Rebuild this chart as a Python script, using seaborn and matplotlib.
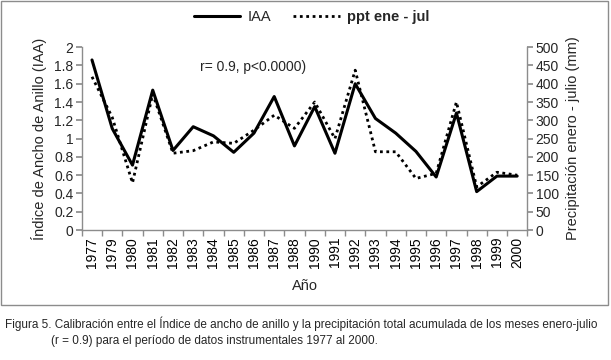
import matplotlib
matplotlib.use("Agg")
import matplotlib.pyplot as plt
import pandas as pd
import seaborn as sns
from matplotlib.lines import Line2D
from matplotlib.patches import Rectangle
from matplotlib.ticker import FixedLocator

YEARS = ["1977", "1979", "1980", "1981", "1982", "1983", "1984", "1985", "1986", "1987", "1988",
         "1990", "1991", "1992", "1993", "1994", "1995", "1996", "1997", "1998", "1999", "2000"]
IAA = [1.86, 1.11, 0.71, 1.53, 0.87, 1.13, 1.03, 0.85, 1.06, 1.46, 0.92,
       1.35, 0.84, 1.60, 1.22, 1.06, 0.86, 0.58, 1.28, 0.42, 0.59, 0.59]
PPT = [419, 308, 129, 372, 210, 217, 241, 237, 273, 314, 278,
       350, 250, 437, 214, 214, 141, 155, 350, 118, 158, 150]

GRAY = "#8c8c8c"

sns.set_theme(style="white")
plt.rcParams["font.family"] = ["Liberation Sans", "DejaVu Sans"]

df = pd.DataFrame({"year": YEARS, "iaa": IAA, "ppt": PPT})

fig = plt.figure(figsize=(6.11, 3.6), dpi=100)
ax = fig.add_axes([0.134, 0.361, 0.729, 0.508])

sns.lineplot(data=df, x="year", y="iaa", ax=ax, color="black", linewidth=2.2, sort=False)
ax2 = ax.twinx()
sns.lineplot(data=df, x="year", y="ppt", ax=ax2, color="black", linewidth=2.0,
             linestyle=(0, (1, 1.3)), sort=False)

n = len(YEARS)
ax.set_xlim(-0.5, n - 0.5)
ax.set_ylim(0, 2)
ax.set_yticks([i * 0.2 for i in range(11)])
ax.set_yticklabels(["0", "0.2", "0.4", "0.6", "0.8", "1", "1.2", "1.4", "1.6", "1.8", "2"])
ax2.set_ylim(0, 500)
ax2.set_yticks(range(0, 501, 50))

ax.set_xticks(range(n))
ax.set_xticklabels(YEARS, rotation=90)
ax.xaxis.set_minor_locator(FixedLocator([i - 0.5 for i in range(n + 1)]))

for a in (ax, ax2):
    for s in a.spines.values():
        s.set_visible(False)
ax.spines["left"].set_visible(True)
ax.spines["bottom"].set_visible(True)
ax2.spines["right"].set_visible(True)
for s in (ax.spines["left"], ax.spines["bottom"], ax2.spines["right"]):
    s.set_color(GRAY)
    s.set_linewidth(1.0)

ax.tick_params(axis="x", which="major", length=0, labelsize=10, pad=5, colors="black")
ax.tick_params(axis="x", which="minor", length=4, color=GRAY, direction="out", bottom=True)
ax.tick_params(axis="y", length=4, color=GRAY, direction="out", left=True, labelsize=10, pad=2)
ax2.tick_params(axis="y", length=4, color=GRAY, direction="out", right=True, labelsize=10, pad=2)

ax.set_xlabel("Año", fontsize=10.5, labelpad=8)
ax.set_ylabel("Índice de Ancho de Anillo (IAA)", fontsize=10.5, labelpad=5)
ax2.set_ylabel("Precipitación enero - julio (mm)", fontsize=10.5, labelpad=5)

ax.text(0.265, 0.87, "r= 0.9, p<0.0000)", transform=ax.transAxes, fontsize=10)

handles = [Line2D([], [], color="black", linewidth=2.2),
           Line2D([], [], color="black", linewidth=2.0, linestyle=(0, (1, 1.3)))]
leg = fig.legend(handles, ["IAA", "ppt ene - jul"], loc="center", bbox_to_anchor=(0.51, 0.952),
                 ncol=2, frameon=False, fontsize=10.5, handlelength=3.2, columnspacing=1.5,
                 handletextpad=0.5)
leg.get_texts()[1].set_fontweight("bold")

fig.patches.append(Rectangle((0.002, 0.153), 0.993, 0.843, transform=fig.transFigure,
                             fill=False, edgecolor=GRAY, linewidth=1.0))

fig.text(0.008, 0.088, "Figura 5. Calibración entre el Índice de ancho de anillo y la precipitación total "
         "acumulada de los meses enero-julio", fontsize=8.5)
fig.text(0.083, 0.045, "(r = 0.9) para el período de datos instrumentales 1977 al 2000.", fontsize=8.5)

fig.savefig("out.png", dpi=100, facecolor="white")
